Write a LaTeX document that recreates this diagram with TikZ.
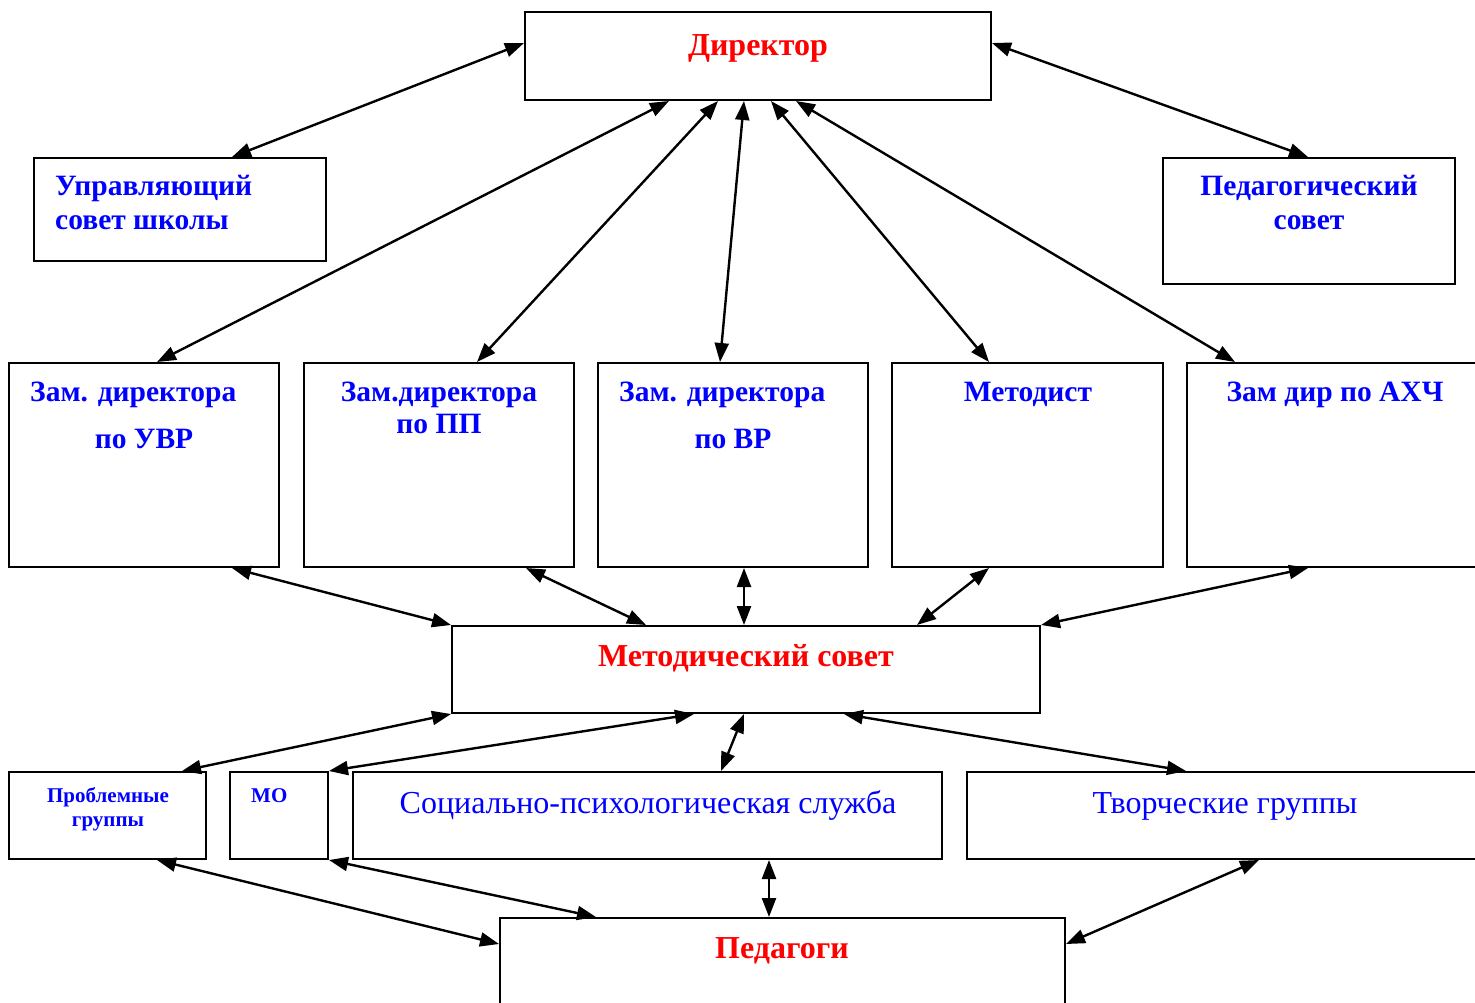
\documentclass[tikz,border=0pt]{standalone}
\usepackage{fontspec}
\setmainfont{Liberation Serif}
\usetikzlibrary{arrows.meta}
\definecolor{tblue}{RGB}{0,0,255}
\definecolor{tred}{RGB}{255,0,0}
\tikzset{
  boxnode/.style={draw=black, line width=2pt, inner sep=0pt, fill=none},
  arr/.style={line width=2.4pt, {Triangle[length=19pt,width=14pt]}-{Triangle[length=19pt,width=14pt]}},
  big/.style={font=\fontsize{29.5}{34}\selectfont\bfseries, inner sep=0pt},
  bigred/.style={font=\fontsize{32}{36}\selectfont\bfseries, inner sep=0pt},
  bigreg/.style={font=\fontsize{32}{36}\selectfont, inner sep=0pt},
  small/.style={font=\fontsize{21}{24}\selectfont\bfseries, inner sep=0pt},
  bluetxt/.style={text=tblue},
  redtxt/.style={text=tred}
}
\newcommand{\mkbox}[5]{%
  \node[boxnode, minimum width={#4-#2}, minimum height={#5-#3}] (#1) at ({(#2+#4)/2},{(#3+#5)/2}) {};}
\begin{document}
\begin{tikzpicture}[x=1pt,y=-1pt]
\useasboundingbox (0,0) rectangle (1475,1002);
\clip (0,0) rectangle (1475,1002);
% boxes
\mkbox{dir}{525}{12}{991}{100}
\mkbox{ub}{34}{158}{326}{261}
\mkbox{ps}{1163}{158}{1455}{284}
\mkbox{b1}{9}{363}{279}{567}
\mkbox{b2}{304}{363}{574}{567}
\mkbox{b3}{598}{363}{868}{567}
\mkbox{b4}{892}{363}{1163}{567}
\mkbox{b5}{1187}{363}{1490}{567}
\mkbox{ms}{452}{626}{1040}{713}
\mkbox{pg}{9}{772}{206}{859}
\mkbox{mo}{230}{772}{328}{859}
\mkbox{sp}{353}{772}{942}{859}
\mkbox{tg}{967}{772}{1490}{859}
\mkbox{pd}{500}{918}{1065}{1020}
% texts
\node[bigred,redtxt,anchor=base] (tdir) at (758,55) {Директор};
\node[big,bluetxt,anchor=base west] (tub1) at (55,195) {Управляющий};
\node[big,bluetxt,anchor=base west] (tub2) at (55,229) {совет школы};
\node[big,bluetxt,anchor=base] (tps1) at (1309,195) {Педагогический};
\node[big,bluetxt,anchor=base] (tps2) at (1309,229) {совет};
\node[big,bluetxt,anchor=base west] (tb1a) at (30,401) {Зам. директора};
\node[big,bluetxt,anchor=base] (tb1b) at (144,448) {по УВР};
\node[big,bluetxt,anchor=base] (tb2a) at (439,401) {Зам.директора};
\node[big,bluetxt,anchor=base] (tb2b) at (439,433) {по ПП};
\node[big,bluetxt,anchor=base west] (tb3a) at (619,401) {Зам. директора};
\node[big,bluetxt,anchor=base] (tb3b) at (733,448) {по ВР};
\node[big,bluetxt,anchor=base] (tb4) at (1028,401) {Методист};
\node[big,bluetxt,anchor=base] (tb5) at (1335,401) {Зам дир по АХЧ};
\node[bigred,redtxt,anchor=base] (tms) at (746,666) {Методический совет};
\node[small,bluetxt,anchor=base] (tpg1) at (108,802) {Проблемные};
\node[small,bluetxt,anchor=base] (tpg2) at (108,826) {группы};
\node[small,bluetxt,anchor=base west] (tmo) at (251,802) {МО};
\node[bigreg,bluetxt,anchor=base] (tsp) at (648,813) {Социально-психологическая служба};
\node[bigreg,bluetxt,anchor=base] (ttg) at (1225,813) {Творческие группы};
\node[bigred,redtxt,anchor=base] (tpd) at (782,958) {Педагоги};
% connectors
\draw[arr] ([yshift=13pt]dir.west) -- ([xshift=199pt]ub.north west);
\draw[arr] ([yshift=13pt]dir.east) -- ([xshift=146pt]ps.north west);
\draw[arr] ([xshift=145pt]dir.south west) -- ([xshift=149pt]b1.north west);
\draw[arr] ([xshift=194pt]dir.south west) -- ([xshift=174pt]b2.north west);
\draw[arr] ([xshift=220pt]dir.south west) -- ([xshift=123pt]b3.north west);
\draw[arr] ([xshift=247pt]dir.south west) -- ([xshift=98pt]b4.north west);
\draw[arr] ([xshift=272pt]dir.south west) -- ([xshift=49pt]b5.north west);
\draw[arr] ([xshift=224pt]b1.south west) -- (ms.north west);
\draw[arr] ([xshift=223pt]b2.south west) -- ([xshift=195pt]ms.north west);
\draw[arr] ([xshift=147pt]b3.south west) -- ([xshift=293pt]ms.north west);
\draw[arr] ([xshift=98pt]b4.south west) -- ([xshift=466pt]ms.north west);
\draw[arr] ([xshift=122pt]b5.south west) -- (ms.north east);
\draw[arr] (ms.south west) -- ([xshift=174pt]pg.north west);
\draw[arr] ([xshift=243pt]ms.south west) -- (mo.north east);
\draw[arr] ([xshift=293pt]ms.south west) -- ([xshift=369pt]sp.north west);
\draw[arr] ([xshift=393pt]ms.south west) -- ([xshift=220pt]tg.north west);
\draw[arr] ([xshift=149pt]pg.south west) -- ([yshift=-27pt]pd.north west);
\draw[arr] (mo.south east) -- ([xshift=97pt]pd.north west);
\draw[arr] ([xshift=417pt]sp.south west) -- ([xshift=270pt]pd.north west);
\draw[arr] ([xshift=293pt]tg.south west) -- ([yshift=-27pt]pd.north east);
\end{tikzpicture}
\end{document}
